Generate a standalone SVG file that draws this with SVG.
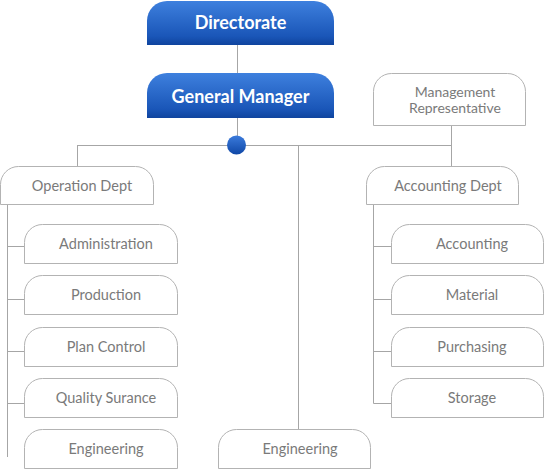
<svg xmlns="http://www.w3.org/2000/svg" width="544" height="469" viewBox="0 0 544 469">
<defs>
<linearGradient id="blue" x1="0" y1="0" x2="0" y2="1">
<stop offset="0" stop-color="#3e80de"/>
<stop offset="0.8" stop-color="#1a56b8"/>
<stop offset="1" stop-color="#0f449e"/>
</linearGradient>
<linearGradient id="dotg" x1="0" y1="0" x2="0" y2="1">
<stop offset="0" stop-color="#3b7bdc"/>
<stop offset="1" stop-color="#0f47a6"/>
</linearGradient>
<style>
.box{fill:#fff;stroke:#b3b3b3;stroke-width:1}
.blue{fill:url(#blue)}
.lbl{font-family:Lato,"Open Sans",sans-serif;font-size:14.5px;fill:#7a7a7a;text-anchor:middle}
.sm{font-size:14px}
.hd{font-family:Lato,"Open Sans",sans-serif;font-size:18px;font-weight:bold;fill:#fff;text-anchor:middle}
.ln{stroke:#a6a6a6;stroke-width:1;fill:none}
</style>
</defs>
<g id="connectors">
<path class="ln" d="M237.5 45V73M237.5 118V145M77.5 145.5H451.5M77.5 145V166M451.5 125V166M298.5 145V429"/>
<path class="ln" d="M7.5 205V457M7.5 246.5H24M7.5 299.5H24M7.5 351.5H24M7.5 403.5H24"/>
<path class="ln" d="M373.5 204V403.5M373.5 246.5H391M373.5 299.5H391M373.5 351.5H391M373.5 403.5H391"/>
<circle cx="236.5" cy="145" r="9.5" fill="url(#dotg)"/>
</g>
<g id="directorate">
<path class="blue" d="M147 45V21A20 20 0 0 1 167 1H314A20 20 0 0 1 334 21V45Z"/>
<text class="hd" x="240.5" y="29">Directorate</text>
</g>
<g id="general-manager">
<path class="blue" d="M147 118V93A20 20 0 0 1 167 73H314A20 20 0 0 1 334 93V118Z"/>
<text class="hd" x="240.5" y="103">General Manager</text>
</g>
<g id="management-representative">
<path class="box" d="M373.5 125.5V91.5A18 18 0 0 1 391.5 73.5H507.5A18 18 0 0 1 525.5 91.5V125.5Z"/>
<text class="lbl sm" x="455" y="97">Management</text>
<text class="lbl sm" x="455" y="113">Representative</text>
</g>
<g id="operation-dept">
<path class="box" d="M0.5 204.5V184.5A18 18 0 0 1 18.5 166.5H135.5A18 18 0 0 1 153.5 184.5V204.5Z"/>
<text class="lbl" x="82" y="191">Operation Dept</text>
</g>
<g id="accounting-dept">
<path class="box" d="M366.5 204.5V184.5A18 18 0 0 1 384.5 166.5H500.5A18 18 0 0 1 518.5 184.5V204.5Z"/>
<text class="lbl" x="448" y="191">Accounting Dept</text>
</g>
<g id="administration">
<path class="box" d="M24.5 263.5V242.5A18 18 0 0 1 42.5 224.5H159.5A18 18 0 0 1 177.5 242.5V263.5Z"/>
<text class="lbl" x="106" y="249">Administration</text>
</g>
<g id="production">
<path class="box" d="M24.5 314.5V293.5A18 18 0 0 1 42.5 275.5H159.5A18 18 0 0 1 177.5 293.5V314.5Z"/>
<text class="lbl" x="106" y="300">Production</text>
</g>
<g id="plan-control">
<path class="box" d="M24.5 366.5V345.5A18 18 0 0 1 42.5 327.5H159.5A18 18 0 0 1 177.5 345.5V366.5Z"/>
<text class="lbl" x="106" y="352">Plan Control</text>
</g>
<g id="quality-surance">
<path class="box" d="M24.5 417.5V396.5A18 18 0 0 1 42.5 378.5H159.5A18 18 0 0 1 177.5 396.5V417.5Z"/>
<text class="lbl" x="106" y="403">Quality Surance</text>
</g>
<g id="engineering-op">
<path class="box" d="M24.5 468.5V447.5A18 18 0 0 1 42.5 429.5H159.5A18 18 0 0 1 177.5 447.5V468.5Z"/>
<text class="lbl" x="106" y="454">Engineering</text>
</g>
<g id="engineering">
<path class="box" d="M218.5 468.5V447.5A18 18 0 0 1 236.5 429.5H352.5A18 18 0 0 1 370.5 447.5V468.5Z"/>
<text class="lbl" x="300" y="454">Engineering</text>
</g>
<g id="accounting">
<path class="box" d="M391.5 263.5V242.5A18 18 0 0 1 409.5 224.5H525.5A18 18 0 0 1 543.5 242.5V263.5Z"/>
<text class="lbl" x="472" y="249">Accounting</text>
</g>
<g id="material">
<path class="box" d="M391.5 314.5V293.5A18 18 0 0 1 409.5 275.5H525.5A18 18 0 0 1 543.5 293.5V314.5Z"/>
<text class="lbl" x="472" y="300">Material</text>
</g>
<g id="purchasing">
<path class="box" d="M391.5 366.5V345.5A18 18 0 0 1 409.5 327.5H525.5A18 18 0 0 1 543.5 345.5V366.5Z"/>
<text class="lbl" x="472" y="352">Purchasing</text>
</g>
<g id="storage">
<path class="box" d="M391.5 417.5V396.5A18 18 0 0 1 409.5 378.5H525.5A18 18 0 0 1 543.5 396.5V417.5Z"/>
<text class="lbl" x="472" y="403">Storage</text>
</g>
</svg>
